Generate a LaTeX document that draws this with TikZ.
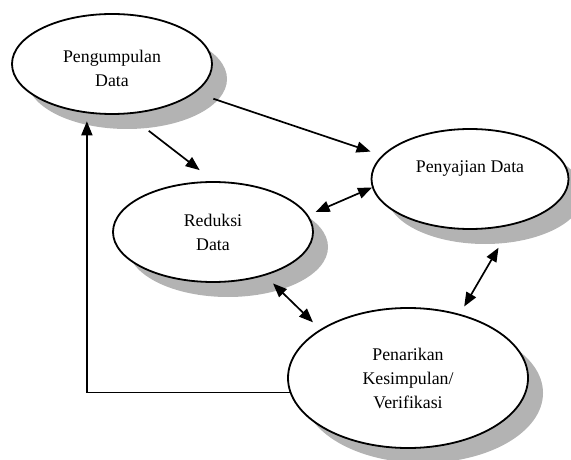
\documentclass[tikz,border=0pt]{standalone}
\usepackage{fontspec}
\setmainfont{Liberation Serif}
\usetikzlibrary{arrows.meta,shapes.geometric,shadows}
\definecolor{bayang}{HTML}{B3B3B3}
\tikzset{tahap/.style={draw,ellipse,fill=white,line width=.9pt,inner sep=0pt,align=center,font=\fontsize{8.9}{12}\selectfont,drop shadow={shadow xshift=7.5pt,shadow yshift=-7.5pt,fill=bayang,opacity=1}},panah/.style={draw,line width=.85pt,-{Triangle[length=7pt,width=5.5pt]}},panah2/.style={panah,{Triangle[length=7pt,width=5.5pt]}-{Triangle[length=7pt,width=5.5pt]}}}

\begin{document}
\begin{tikzpicture}[x=.5pt,y=-.5pt]
\useasboundingbox (0,0) rectangle (571,459);
\node[tahap,minimum width=100pt,minimum height=50pt] (kumpul) at (112,64) {\mbox{}\\[-1pt]Pengumpulan\\Data};
\node[tahap,minimum width=98.5pt,minimum height=50pt] (saji) at (470,179) {Penyajian Data\\\mbox{}};
\node[tahap,minimum width=100pt,minimum height=50pt] (reduksi) at (213,232) {Reduksi\\Data};
\node[tahap,minimum width=120pt,minimum height=70pt] (simpul) at (408,378) {Penarikan\\Kesimpulan/\\Verifikasi};
\draw[panah,shorten <=9.5pt,shorten >=6pt] (kumpul.-19) -- (saji.165);
\draw[panah,shorten <=13.5pt,shorten >=9pt] (kumpul.-73) -- (reduksi.89);
\draw[panah2,shorten <=4pt] (reduksi.10) -- (saji.185);
\draw[panah2,shorten <=5.6pt,shorten >=5pt] (reduksi.-40) -- (simpul.151);
\draw[panah2,shorten <=13pt,shorten >=4.3pt] (saji.-48) -- (simpul.51);
\draw[panah,shorten >=4pt] (simpul.187) -| (kumpul.243);
\end{tikzpicture}
\end{document}
